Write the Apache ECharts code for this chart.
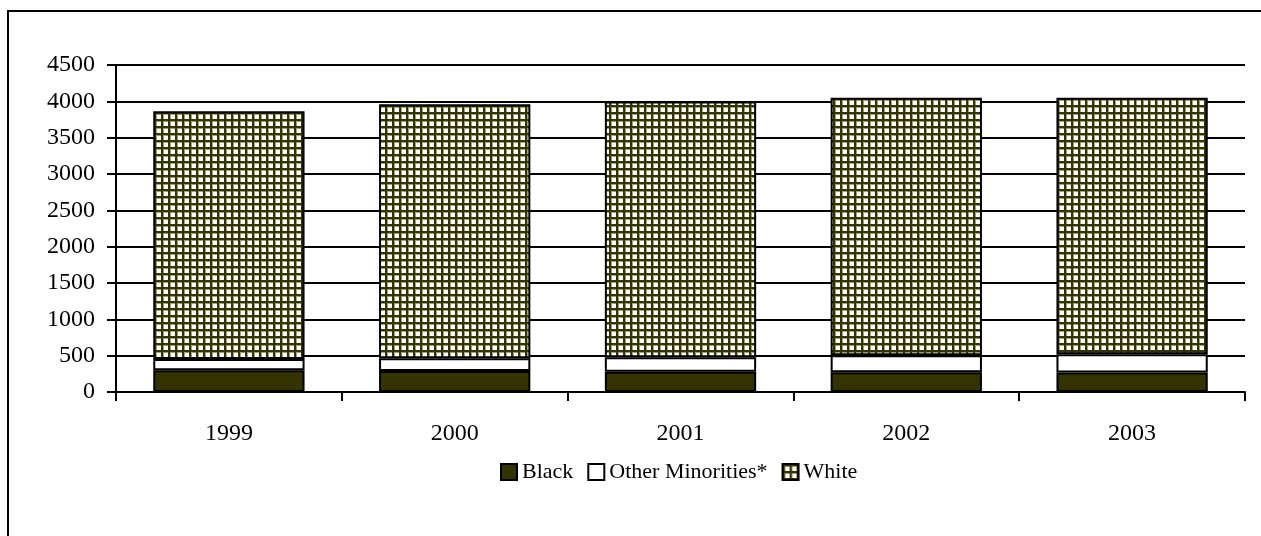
<!DOCTYPE html>
<html>
<head>
<meta charset="utf-8">
<script src="https://cdn.jsdelivr.net/npm/echarts@6/dist/echarts.min.js"></script>
<style>
  html, body { margin: 0; padding: 0; background: #fff; overflow: hidden; }
  #frame { position: absolute; left: 7px; top: 10px; width: 1400px; height: 700px; border: 2px solid #000; box-sizing: border-box; }
  #chart { position: absolute; left: 0; top: 0; width: 1261px; height: 536px; }
</style>
</head>
<body>
<div id="frame"></div>
<div id="chart"></div>
<script>
const categories = ['1999', '2000', '2001', '2002', '2003'];
const blackValues = [300, 288, 280, 272, 268];
const otherValues = [155, 177, 197, 235, 252];
const whiteValues = [3410, 3495, 3520, 3543, 3530];
const yTicks = { min: 0, max: 4500, interval: 500 };

function gridPattern() {
  const c = document.createElement('canvas');
  c.width = 7; c.height = 7;
  const ctx = c.getContext('2d');
  ctx.fillStyle = '#ffffff';
  ctx.fillRect(0, 0, 7, 7);
  ctx.fillStyle = '#a0a078';
  ctx.fillRect(2, 0, 1, 7);
  ctx.fillRect(0, 2, 7, 1);
  ctx.fillStyle = '#333300';
  ctx.fillRect(0, 0, 2, 7);
  ctx.fillRect(0, 0, 7, 2);
  return c;
}

const chart = echarts.init(document.getElementById('chart'), null, { renderer: 'canvas' });
const font = '"Liberation Serif", "Times New Roman", serif';
const pattern = { image: gridPattern(), repeat: 'repeat' };

const barStyle = (color) => ({ color: color, borderColor: '#000', borderWidth: 2 });

chart.setOption({
  animation: false,
  backgroundColor: 'transparent',
  textStyle: { fontFamily: font, color: '#000' },
  grid: { left: 116, right: 16, top: 65, bottom: 144, containLabel: false },
  legend: {
    top: 456,
    left: 495,
    itemWidth: 16,
    itemHeight: 16,
    itemGap: 14,
    icon: 'rect',
    textStyle: { fontFamily: font, fontSize: 22, color: '#000' },
    data: [
      { name: 'Black', itemStyle: { color: '#333300', borderColor: '#000', borderWidth: 2 } },
      { name: 'Other Minorities*', itemStyle: { color: '#fff', borderColor: '#000', borderWidth: 2 } },
      { name: 'White', itemStyle: { color: pattern, borderColor: '#000', borderWidth: 2 } }
    ]
  },
  xAxis: {
    type: 'category',
    data: categories,
    axisLine: { lineStyle: { color: '#000', width: 2 } },
    axisTick: { show: true, length: 9, lineStyle: { color: '#000', width: 2 } },
    axisLabel: { fontFamily: font, fontSize: 24, color: '#000', margin: 30 }
  },
  yAxis: {
    type: 'value',
    min: yTicks.min,
    max: yTicks.max,
    interval: yTicks.interval,
    axisLine: { show: true, lineStyle: { color: '#000', width: 2 } },
    axisTick: { show: true, length: 9, lineStyle: { color: '#000', width: 2 } },
    axisLabel: { fontFamily: font, fontSize: 24, color: '#000', margin: 21, formatter: (v) => String(v) },
    splitLine: { show: true, lineStyle: { color: '#000', width: 2 } }
  },
  series: [
    { name: 'Black', type: 'bar', stack: 'total', data: blackValues, barCategoryGap: '33%', itemStyle: barStyle('#333300') },
    { name: 'Other Minorities*', type: 'bar', stack: 'total', data: otherValues, itemStyle: barStyle('#ffffff') },
    { name: 'White', type: 'bar', stack: 'total', data: whiteValues, itemStyle: barStyle(pattern) }
  ]
});
</script>
</body>
</html>
